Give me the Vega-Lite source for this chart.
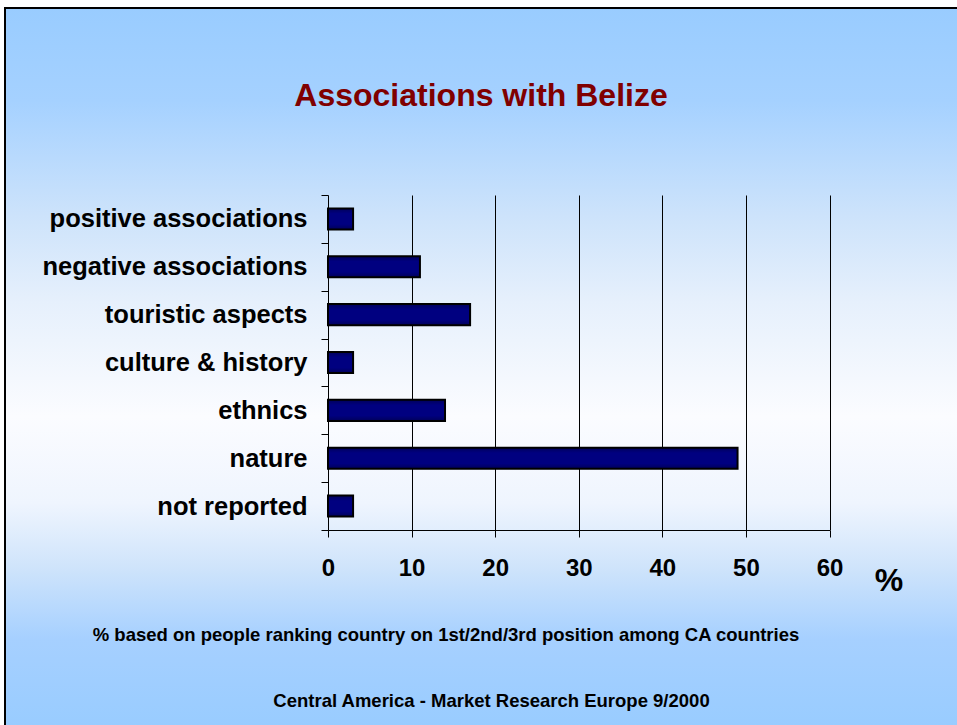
{
  "$schema": "https://vega.github.io/schema/vega-lite/v6.json",
  "width": 952,
  "height": 717,
  "autosize": {"type": "none"},
  "padding": {"left": 5, "top": 8, "right": 0, "bottom": 0},
  "background": "#ffffff",
  "view": {
    "fill": {
      "gradient": "linear", "x1": 0, "y1": 0, "x2": 0, "y2": 1,
      "stops": [
        {"offset": 0, "color": "#99ccff"},
        {"offset": 0.13, "color": "#a5d1ff"},
        {"offset": 0.29, "color": "#cde3fb"},
        {"offset": 0.41, "color": "#e6f0fc"},
        {"offset": 0.57, "color": "#fbfcff"},
        {"offset": 0.69, "color": "#eff5fe"},
        {"offset": 0.78, "color": "#cfe4fb"},
        {"offset": 0.88, "color": "#a6d0ff"},
        {"offset": 1, "color": "#99ccff"}
      ]
    },
    "stroke": "#000000",
    "strokeWidth": 2,
    "strokeDash": [952, 1669, 717]
  },
  "title": {
    "text": "Associations with Belize",
    "anchor": "middle",
    "frame": "group",
    "offset": -142,
    "baseline": "alphabetic",
    "font": "Liberation Sans",
    "fontSize": 32,
    "fontWeight": "bold",
    "color": "#800000"
  },
  "data": {
    "values": [
      {"association": "positive associations", "percent": 3},
      {"association": "negative associations", "percent": 11},
      {"association": "touristic aspects", "percent": 17},
      {"association": "culture & history", "percent": 3},
      {"association": "ethnics", "percent": 14},
      {"association": "nature", "percent": 49},
      {"association": "not reported", "percent": 3}
    ]
  },
  "layer": [
    {
      "mark": {"type": "bar", "opacity": 0, "height": {"band": 0.44}},
      "encoding": {
        "y": {
          "field": "association", "type": "nominal", "sort": null,
          "scale": {"range": [187, 522], "paddingInner": 0, "paddingOuter": 0},
          "axis": null
        },
        "x": {
          "field": "percent", "type": "quantitative",
          "scale": {"domain": [0, 60], "range": [323, 824.5], "nice": false},
          "axis": {
            "orient": "top",
            "offset": 0,
            "values": [10, 20, 30, 40, 50, 60],
            "labels": false,
            "ticks": false,
            "domain": false,
            "grid": true,
            "gridColor": "#000000",
            "gridOpacity": 1,
            "gridWidth": 1,
            "title": "Central America - Market Research Europe 9/2000",
            "titleX": 486,
            "titleY": 698.5,
            "titleAngle": 0,
            "titleAlign": "center",
            "titleBaseline": "alphabetic",
            "titleFont": "Liberation Sans",
            "titleFontSize": 18.5,
            "titleFontWeight": "bold",
            "titleColor": "#000000",
            "titleLimit": 1000
          }
        }
      }
    },
    {
      "mark": {
        "type": "bar",
        "height": {"band": 0.44},
        "color": {
          "gradient": "linear", "x1": 0, "y1": 0, "x2": 0, "y2": 1,
          "stops": [
            {"offset": 0, "color": "#00005a"},
            {"offset": 0.25, "color": "#000080"},
            {"offset": 0.75, "color": "#000080"},
            {"offset": 1, "color": "#00005a"}
          ]
        },
        "stroke": "#000000",
        "strokeWidth": 2
      },
      "encoding": {
        "y": {
          "field": "association", "type": "nominal", "sort": null,
          "scale": {"range": [187, 522], "paddingInner": 0, "paddingOuter": 0},
          "axis": {
            "orient": "left",
            "offset": -323,
            "grid": false,
            "domainColor": "#000000",
            "domainWidth": 1,
            "tickColor": "#000000",
            "tickSize": 7,
            "tickBand": "extent",
            "labelFont": "Liberation Sans",
            "labelFontSize": 25.5,
            "labelFontWeight": "bold",
            "labelColor": "#000000",
            "labelPadding": 14,
            "labelLimit": 400,
            "title": "% based on people ranking country on 1st/2nd/3rd position among CA countries",
            "titleX": 117.5,
            "titleY": 632.5,
            "titleAngle": 0,
            "titleAlign": "center",
            "titleBaseline": "alphabetic",
            "titleFont": "Liberation Sans",
            "titleFontSize": 18.5,
            "titleFontWeight": "bold",
            "titleColor": "#000000",
            "titleLimit": 1000
          }
        },
        "x": {
          "field": "percent", "type": "quantitative",
          "scale": {"domain": [0, 60], "range": [323, 824.5], "nice": false},
          "axis": {
            "orient": "bottom",
            "offset": -195,
            "values": [0, 10, 20, 30, 40, 50, 60],
            "grid": false,
            "domainColor": "#000000",
            "domainWidth": 1,
            "tickColor": "#000000",
            "tickSize": 7,
            "labelFont": "Liberation Sans",
            "labelFontSize": 24,
            "labelFontWeight": "bold",
            "labelColor": "#000000",
            "labelPadding": 19,
            "labelFlush": false,
            "title": "%",
            "titleX": 883.5,
            "titleY": 60.5,
            "titleAngle": 0,
            "titleAlign": "center",
            "titleBaseline": "alphabetic",
            "titleFont": "Liberation Sans",
            "titleFontSize": 32,
            "titleFontWeight": "bold",
            "titleColor": "#000000"
          }
        }
      }
    }
  ],
  "resolve": {"axis": {"x": "independent", "y": "independent"}}
}
